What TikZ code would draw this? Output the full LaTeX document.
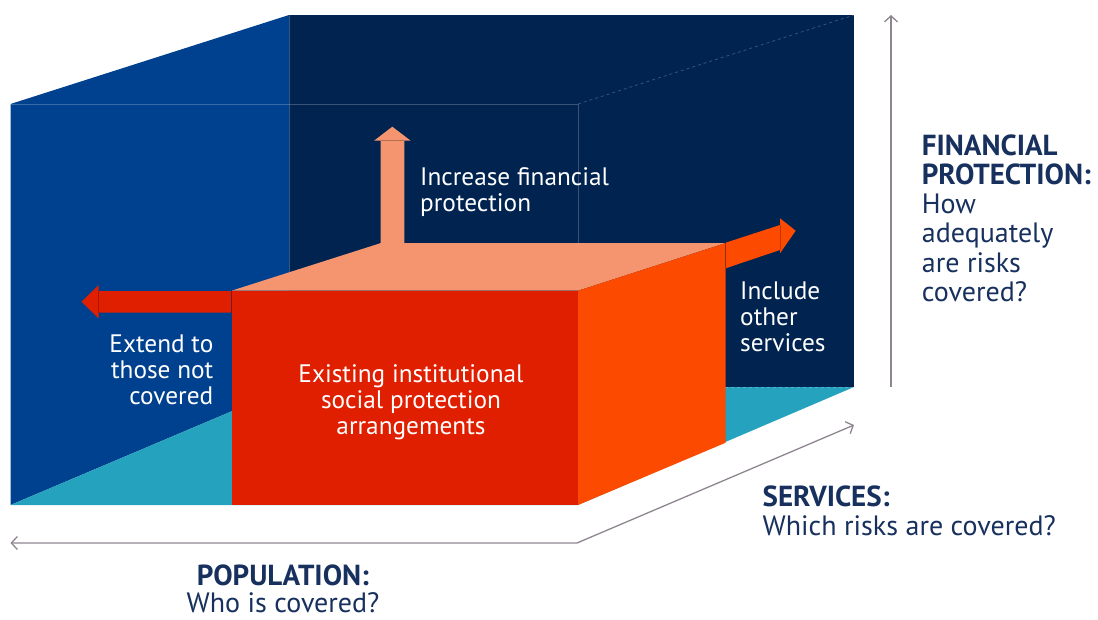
\documentclass[tikz,border=0pt]{standalone}
\usepackage{fontspec}
\setmainfont{PT Sans}
\usetikzlibrary{arrows.meta}
\definecolor{navyback}{HTML}{012350}
\definecolor{bluel}{HTML}{00418F}
\definecolor{floorteal}{HTML}{24A2BE}
\definecolor{redf}{HTML}{E01F00}
\definecolor{orangef}{HTML}{FC4A00}
\definecolor{salmonf}{HTML}{F4956F}
\definecolor{txtnavy}{HTML}{17305E}
\definecolor{axisgray}{HTML}{8E8590}
\newcommand{\boldlbl}[1]{{\fontsize{29}{29.3}\selectfont\bfseries #1}}
\tikzset{
  edgeline/.style={draw=white, draw opacity=0.22, line width=0.8pt},
  headline/.style={draw=black, draw opacity=0.25, line width=0.7pt},
  axisline/.style={draw=axisgray, line width=1.3pt, line join=round},
  barb/.tip={Straight Barb[length=6pt,width=13pt,line width=1.3pt]},
  whitelabel/.style={text=white, inner sep=0pt, font=\fontsize{25.3}{26}\selectfont},
  navylabel/.style={text=txtnavy, inner sep=0pt, font=\fontsize{28}{29.3}\selectfont},
}
\begin{document}
\begin{tikzpicture}[x=1pt,y=-1pt]
\useasboundingbox (0,0) rectangle (1098,619);
% big box faces
\fill[navyback] (289,15) rectangle (854,387);
\fill[bluel] (10.5,104) -- (289,15) -- (289,387) -- (10.5,505) -- cycle;
\fill[floorteal] (10.5,505) -- (289,387) -- (854,387) -- (578,505) -- cycle;
% big box edges
\draw[edgeline] (10.5,104) -- (578,104) -- (578,250);
\draw[edgeline] (289,15) -- (289,290);
\draw[edgeline, dashed] (578,104) -- (854,15);
\draw[edgeline, dashed] (725,387) -- (854,387);
% small box
\fill[salmonf] (231.5,290.7) -- (381,243) -- (725.7,243) -- (578,290.7) -- cycle;
\fill[redf] (231.5,290.7) rectangle (578,505);
\fill[orangef] (578,290.7) -- (725.7,243) -- (725.7,442.7) -- (578,505) -- cycle;
% arrows
\fill[salmonf] (380.7,243) -- (380.7,140.7) -- (374,140.7) -- (392.3,126.7) -- (410.7,140.7) -- (404.3,140.7) -- (404.3,243) -- cycle;
\draw[headline] (380.7,140.7) -- (404.3,140.7);
\fill[redf] (231.5,291) -- (98.7,291) -- (98.7,285) -- (81.5,301.7) -- (98.7,318.5) -- (98.7,312.7) -- (231.5,312.7) -- cycle;
\draw[headline] (98.7,291) -- (98.7,312.7);
\draw[headline] (231.5,291) -- (231.5,312.7);
\fill[orangef] (725.7,242.7) -- (780,225) -- (780,218.3) -- (795.7,230.7) -- (780,253.3) -- (780,250) -- (725.7,268.3) -- cycle;
\draw[headline] (780,225) -- (780,250);
\draw[headline] (725.7,243) -- (725.7,268.3);
% axes
\coordinate (vbot) at (891,387);
\coordinate (vtop) at (891,15);
\coordinate (hleft) at (10.5,543);
\coordinate (hcorner) at (577,543);
\coordinate (dtip) at (854,425);
\draw[axisline, -barb] (vbot) -- (vtop);
\draw[axisline, barb-barb] (hleft) -- (hcorner) -- (dtip);
% labels (base anchor = baseline of last line)
\node[whitelabel, anchor=base west, align=left] (incr) at (420,211) {Increase financial\\protection};
\node[whitelabel, anchor=base west, align=left] (incl) at (740,351.7) {Include\\other\\services};
\node[whitelabel, anchor=base east, align=right] (ext) at (213.5,404.7) {Extend to\\those not\\covered};
\node[whitelabel, anchor=base, align=center] (exist) at (411,434.7) {Existing institutional\\social protection\\arrangements};
\node[navylabel, anchor=base west, align=left] (fin) at (921.7,301.5) {\boldlbl{FINANCIAL}\\\boldlbl{PROTECTION:}\\How\\adequately\\are risks\\covered?};
\node[navylabel, anchor=base west, align=left] (serv) at (762.5,535.7) {\boldlbl{SERVICES:}\\Which risks are covered?};
\node[navylabel, anchor=base, align=center, font=\fontsize{28}{26.7}\selectfont] (pop) at (283,612.5) {\boldlbl{POPULATION:}\\Who is covered?};
\end{tikzpicture}
\end{document}
